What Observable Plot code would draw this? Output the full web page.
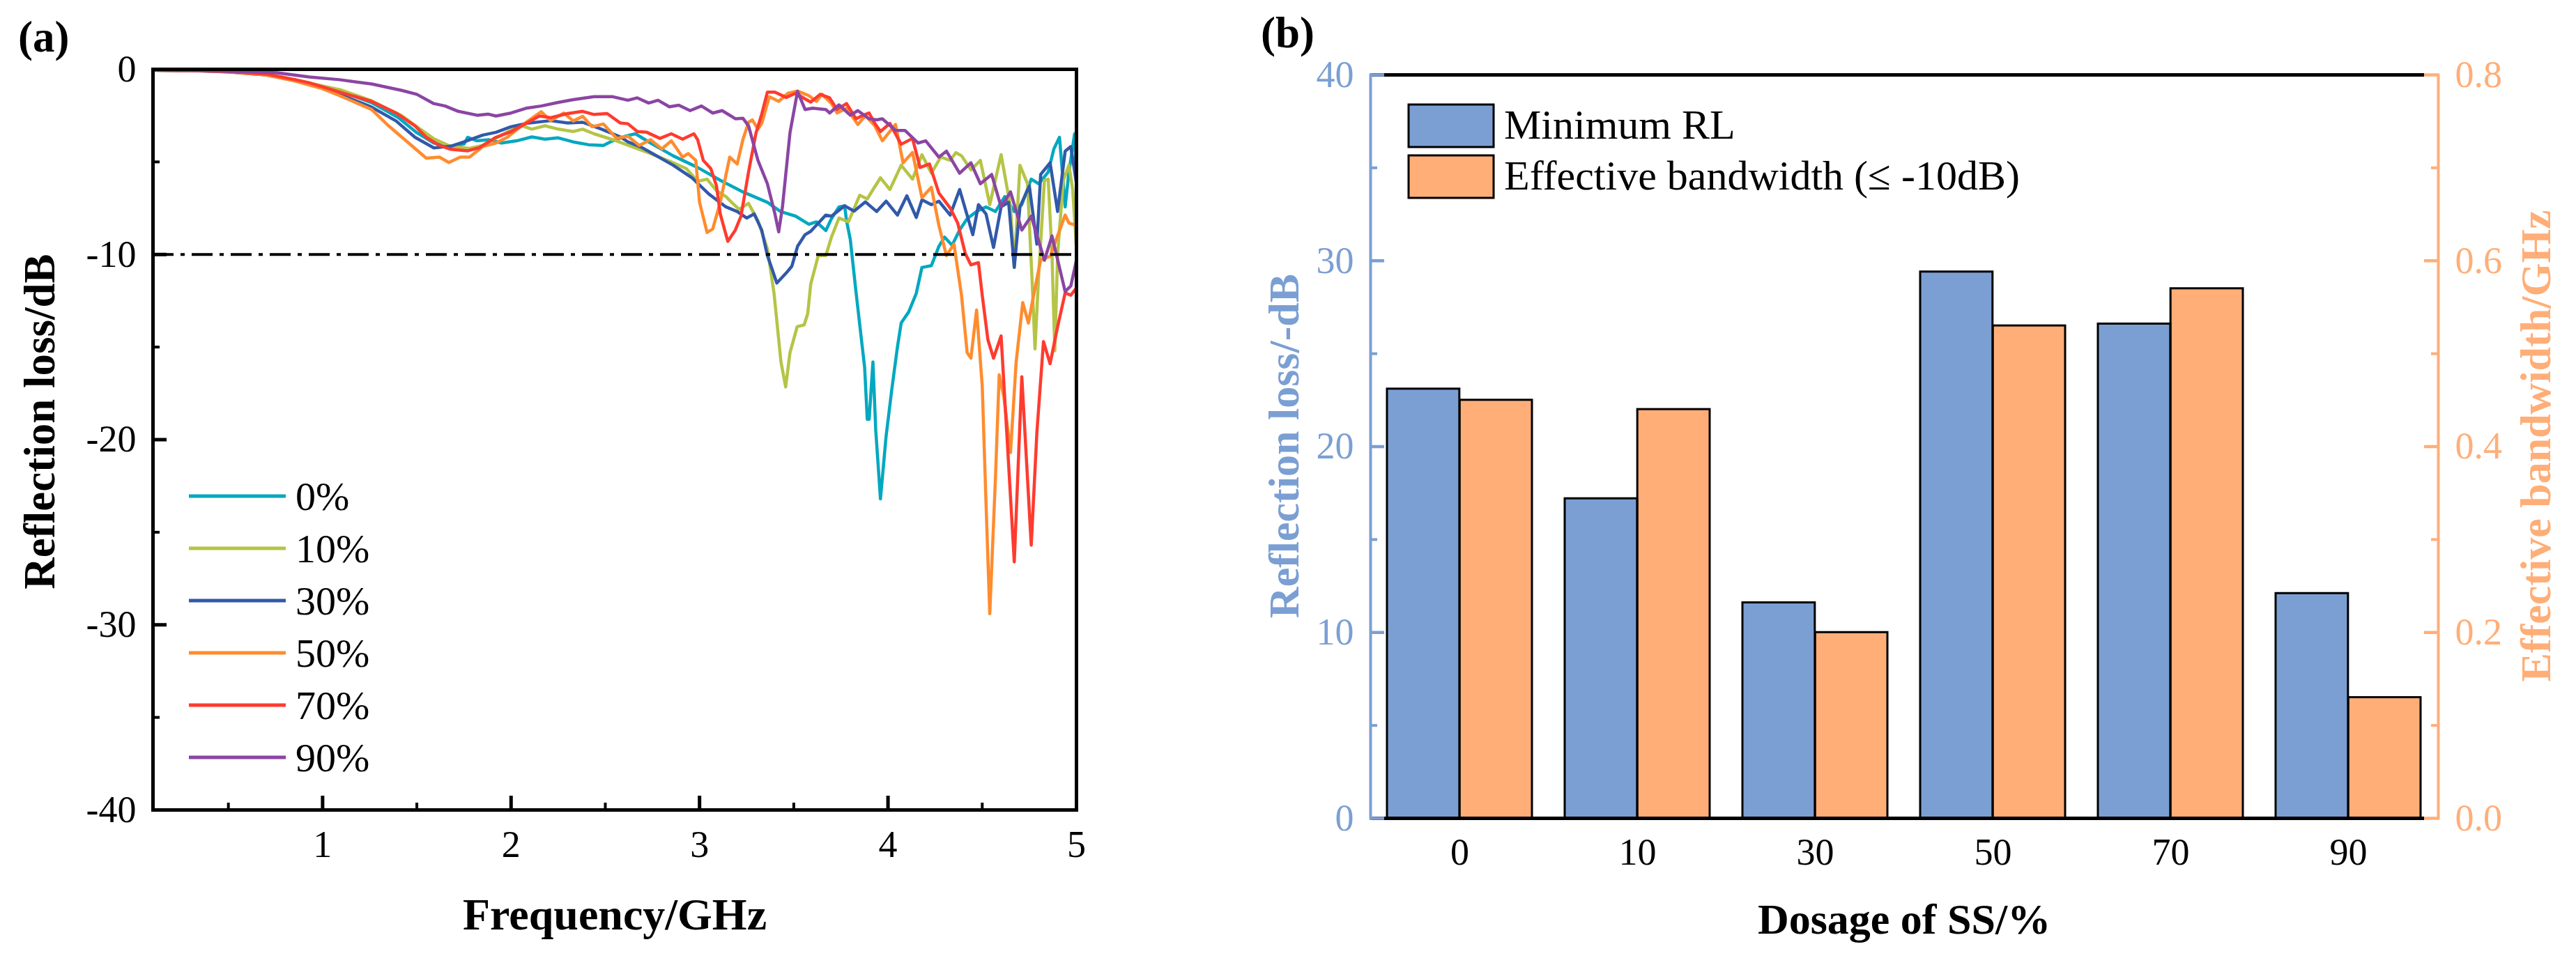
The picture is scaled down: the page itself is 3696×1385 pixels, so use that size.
<!DOCTYPE html>
<html><head><meta charset="utf-8">
<script src="https://cdn.jsdelivr.net/npm/d3@7"></script>
<script src="https://cdn.jsdelivr.net/npm/@observablehq/plot@0.6"></script>
<style>
html,body{margin:0;padding:0;background:#fff;}
#wrap{position:relative;width:3696px;height:1385px;overflow:hidden;background:#fff;}
#wrap svg{position:absolute;}
</style></head><body><div id="wrap"></div>
<script>
// ---------- Panel (a) data: [frequency GHz, reflection loss dB] ----------
const seriesNames = ["0%","10%","30%","50%","70%","90%"];
const seriesColors = ["#00A8C0","#B5C446","#3159AA","#FF8C2E","#FF3B2F","#8B45A3"];

const s0 = [[0.1,-0.05],[0.3,-0.06],[0.5,-0.12],[0.7,-0.27],[0.85,-0.57],[1.0,-0.95],[1.1,-1.2],[1.26,-1.8],[1.4,-2.6],[1.5,-3.42],[1.59,-3.98],[1.67,-4.17],[1.75,-4.04],[1.77,-3.67],[1.82,-3.86],[1.88,-3.8],[1.95,-3.98],[2.03,-3.86],[2.11,-3.65],[2.18,-3.77],[2.25,-3.7],[2.33,-3.92],[2.41,-4.07],[2.49,-4.11],[2.53,-3.9],[2.61,-3.6],[2.66,-3.48],[2.74,-3.98],[2.86,-4.67],[2.99,-5.3],[3.11,-5.99],[3.23,-6.62],[3.36,-7.18],[3.43,-7.68],[3.51,-7.93],[3.58,-8.37],[3.62,-8.24],[3.67,-8.71],[3.70,-8.06],[3.74,-7.43],[3.77,-7.37],[3.78,-8.18],[3.80,-9.19],[3.83,-12.0],[3.876,-16.1],[3.89,-18.9],[3.90,-18.9],[3.92,-15.8],[3.935,-19.5],[3.96,-23.2],[3.99,-19.8],[4.02,-17.3],[4.05,-15.0],[4.07,-13.7],[4.11,-13.1],[4.15,-12.1],[4.18,-10.7],[4.23,-10.6],[4.27,-9.56],[4.30,-9.06],[4.34,-9.5],[4.38,-8.68],[4.42,-8.06],[4.47,-7.68],[4.52,-7.43],[4.57,-7.68],[4.62,-6.87],[4.67,-7.68],[4.71,-7.3],[4.76,-5.93],[4.80,-6.18],[4.85,-5.55],[4.88,-4.3],[4.91,-3.67],[4.94,-7.43],[4.96,-5.55],[4.99,-3.48],[5.0,-5.9]];

const s10 = [[0.1,-0.05],[0.3,-0.06],[0.5,-0.12],[0.7,-0.25],[0.85,-0.55],[1.0,-0.9],[1.1,-1.12],[1.26,-1.7],[1.42,-2.5],[1.5,-3.1],[1.59,-3.75],[1.68,-4.17],[1.78,-4.27],[1.85,-4.11],[1.95,-3.55],[2.05,-3.02],[2.11,-3.23],[2.18,-3.05],[2.25,-3.23],[2.33,-3.36],[2.38,-3.23],[2.44,-3.48],[2.54,-3.8],[2.62,-4.1],[2.74,-4.55],[2.86,-5.05],[2.93,-5.36],[2.99,-6.05],[3.04,-5.93],[3.09,-6.55],[3.14,-6.87],[3.17,-7.18],[3.21,-7.56],[3.26,-7.24],[3.31,-8.18],[3.36,-9.69],[3.395,-12.07],[3.432,-15.8],[3.457,-17.15],[3.48,-15.3],[3.518,-13.9],[3.555,-13.8],[3.574,-13.2],[3.59,-11.6],[3.63,-10.06],[3.67,-10.06],[3.70,-9.06],[3.74,-8.03],[3.79,-8.24],[3.85,-6.8],[3.89,-7.0],[3.92,-6.5],[3.96,-5.86],[4.01,-6.49],[4.07,-5.18],[4.13,-5.93],[4.18,-4.61],[4.23,-5.61],[4.28,-4.74],[4.33,-4.92],[4.36,-4.5],[4.39,-4.67],[4.44,-5.43],[4.49,-4.92],[4.54,-7.31],[4.60,-4.61],[4.65,-7.43],[4.67,-10.7],[4.70,-5.18],[4.74,-6.18],[4.765,-11.5],[4.78,-15.1],[4.80,-11.0],[4.83,-6.0],[4.85,-5.93],[4.87,-10.0],[4.885,-15.2],[4.90,-10.0],[4.93,-6.0],[4.96,-5.18],[4.98,-6.5],[5.0,-9.7]];

const s30 = [[0.1,-0.05],[0.3,-0.07],[0.5,-0.14],[0.7,-0.3],[0.85,-0.6],[1.0,-1.0],[1.09,-1.35],[1.26,-2.04],[1.39,-2.79],[1.49,-3.67],[1.59,-4.24],[1.68,-4.15],[1.75,-3.92],[1.85,-3.55],[1.92,-3.4],[2.0,-3.1],[2.08,-2.92],[2.21,-2.77],[2.30,-2.9],[2.38,-2.86],[2.48,-3.23],[2.58,-3.65],[2.62,-3.92],[2.69,-4.2],[2.74,-4.49],[2.86,-5.18],[2.96,-5.86],[3.05,-6.74],[3.14,-7.43],[3.20,-7.68],[3.25,-8.03],[3.29,-7.81],[3.33,-8.68],[3.36,-10.06],[3.39,-10.94],[3.41,-11.54],[3.46,-11.0],[3.49,-10.63],[3.52,-9.56],[3.56,-8.93],[3.59,-8.75],[3.63,-8.31],[3.67,-7.87],[3.70,-7.93],[3.77,-7.37],[3.82,-7.66],[3.88,-7.16],[3.94,-7.68],[3.99,-7.12],[4.05,-7.87],[4.10,-6.83],[4.15,-8.0],[4.18,-7.05],[4.23,-7.31],[4.27,-7.12],[4.33,-7.87],[4.38,-6.49],[4.45,-8.93],[4.48,-7.31],[4.52,-7.81],[4.56,-9.62],[4.60,-7.43],[4.64,-7.18],[4.67,-10.7],[4.70,-7.43],[4.75,-6.3],[4.79,-9.44],[4.81,-5.68],[4.86,-5.05],[4.90,-7.68],[4.94,-4.42],[4.97,-4.17],[5.0,-6.18]];

const s50 = [[0.1,-0.05],[0.3,-0.07],[0.5,-0.14],[0.7,-0.3],[0.85,-0.62],[1.0,-1.05],[1.09,-1.42],[1.26,-2.17],[1.35,-3.05],[1.45,-3.92],[1.55,-4.8],[1.62,-4.74],[1.67,-5.03],[1.73,-4.74],[1.78,-4.74],[1.85,-4.17],[1.92,-3.98],[1.98,-3.67],[2.08,-2.86],[2.16,-2.29],[2.21,-2.77],[2.28,-2.36],[2.33,-2.79],[2.38,-2.54],[2.43,-3.1],[2.49,-2.95],[2.56,-3.73],[2.62,-3.61],[2.68,-4.11],[2.74,-3.8],[2.80,-4.3],[2.85,-3.86],[2.91,-4.74],[2.94,-4.55],[2.98,-4.92],[3.0,-7.18],[3.04,-8.81],[3.07,-8.62],[3.11,-7.18],[3.16,-4.74],[3.20,-5.11],[3.23,-3.8],[3.26,-2.86],[3.28,-2.73],[3.31,-3.23],[3.33,-2.92],[3.37,-1.48],[3.42,-1.73],[3.47,-1.29],[3.52,-1.17],[3.58,-1.42],[3.62,-1.73],[3.65,-1.35],[3.70,-1.85],[3.73,-2.36],[3.78,-2.1],[3.84,-2.98],[3.88,-2.5],[3.93,-3.05],[3.97,-3.86],[4.04,-2.98],[4.08,-5.05],[4.13,-4.49],[4.18,-6.93],[4.23,-6.37],[4.27,-8.43],[4.31,-10.06],[4.35,-9.44],[4.39,-12.2],[4.42,-15.3],[4.44,-15.6],[4.47,-13.0],[4.50,-17.1],[4.52,-23.4],[4.54,-29.4],[4.57,-22.1],[4.59,-16.5],[4.615,-17.7],[4.65,-20.7],[4.68,-15.8],[4.715,-12.6],[4.745,-13.7],[4.775,-12.07],[4.81,-10.3],[4.86,-10.1],[4.94,-7.87],[4.96,-8.3],[5.0,-8.43]];

const s70 = [[0.1,-0.05],[0.3,-0.06],[0.5,-0.12],[0.7,-0.25],[0.85,-0.55],[0.93,-0.73],[1.09,-1.23],[1.26,-1.73],[1.39,-2.36],[1.49,-3.05],[1.55,-3.67],[1.62,-4.11],[1.68,-4.32],[1.77,-4.4],[1.83,-4.24],[1.92,-3.67],[2.0,-3.36],[2.08,-2.92],[2.15,-2.52],[2.21,-2.61],[2.30,-2.39],[2.38,-2.27],[2.44,-2.44],[2.51,-2.39],[2.58,-2.9],[2.62,-2.94],[2.67,-3.36],[2.72,-3.4],[2.79,-3.73],[2.85,-3.48],[2.91,-3.77],[2.97,-3.48],[2.99,-3.8],[3.02,-4.92],[3.06,-5.36],[3.09,-6.3],[3.11,-7.81],[3.15,-9.29],[3.19,-8.68],[3.22,-7.93],[3.26,-5.55],[3.30,-3.42],[3.33,-2.42],[3.36,-1.23],[3.40,-1.23],[3.46,-1.52],[3.51,-1.29],[3.56,-1.6],[3.59,-1.77],[3.64,-1.35],[3.69,-1.54],[3.73,-2.17],[3.78,-1.85],[3.83,-2.67],[3.86,-2.52],[3.90,-2.36],[3.93,-2.92],[3.96,-3.36],[4.01,-2.92],[4.07,-4.05],[4.13,-3.73],[4.17,-5.3],[4.22,-5.11],[4.27,-6.68],[4.33,-7.49],[4.37,-8.31],[4.41,-9.94],[4.44,-10.56],[4.48,-10.44],[4.50,-12.2],[4.53,-14.6],[4.56,-15.6],[4.60,-14.4],[4.63,-19.6],[4.67,-26.6],[4.71,-16.6],[4.76,-25.7],[4.79,-19.6],[4.825,-14.7],[4.86,-15.9],[4.90,-13.9],[4.94,-12.07],[4.97,-12.2],[5.0,-11.8]];

const s90 = [[0.1,-0.05],[0.3,-0.06],[0.5,-0.1],[0.6,-0.12],[0.76,-0.19],[0.93,-0.41],[1.09,-0.56],[1.26,-0.79],[1.42,-1.14],[1.50,-1.35],[1.59,-1.85],[1.65,-1.98],[1.72,-2.27],[1.82,-2.48],[1.88,-2.42],[1.92,-2.52],[2.0,-2.36],[2.08,-2.1],[2.16,-1.98],[2.25,-1.79],[2.33,-1.64],[2.44,-1.48],[2.54,-1.48],[2.62,-1.67],[2.67,-1.54],[2.73,-1.82],[2.78,-1.67],[2.84,-2.02],[2.89,-1.94],[2.95,-2.23],[3.01,-1.98],[3.07,-2.36],[3.12,-2.23],[3.19,-2.67],[3.23,-2.64],[3.26,-3.05],[3.31,-4.92],[3.36,-6.18],[3.40,-7.81],[3.42,-8.78],[3.44,-7.43],[3.48,-3.42],[3.52,-1.19],[3.56,-2.17],[3.60,-2.1],[3.67,-2.17],[3.69,-2.36],[3.74,-1.92],[3.80,-2.48],[3.84,-2.23],[3.90,-2.67],[3.94,-2.73],[3.97,-2.67],[4.04,-3.3],[4.09,-3.3],[4.16,-3.98],[4.20,-3.86],[4.27,-4.74],[4.31,-4.42],[4.38,-5.61],[4.44,-5.05],[4.49,-6.18],[4.55,-5.68],[4.60,-7.43],[4.65,-6.62],[4.71,-8.68],[4.76,-7.93],[4.83,-10.31],[4.87,-9.0],[4.94,-12.0],[4.97,-11.7],[5.0,-10.3]];

const xTicksA = [1,2,3,4,5];
const xMinorA = [0.5,1.5,2.5,3.5,4.5];
const yTicksA = [0,-10,-20,-30,-40];
const yMinorA = [-5,-15,-25,-35];
const thresholdA = [-10];

// ---------- Panel (b) data ----------
const dosages = ["0","10","30","50","70","90"];
const minRL = [23.1,17.2,11.6,29.4,26.6,12.1];
const effBandwidth = [0.45,0.44,0.20,0.53,0.57,0.13];
const yTicksL = [0,10,20,30,40];
const yMinorL = [5,15,25,35];
const yTicksR = [0,0.2,0.4,0.6,0.8];
const yMinorR = [0.1,0.3,0.5,0.7];
const legendB = ["Minimum RL","Effective bandwidth (\u2264 -10dB)"];

const FONT = "'Liberation Serif','Times New Roman',serif";
const BLUE = "#7B9FD3";
const ORANGE = "#FFAE78";
const wrap = document.getElementById("wrap");

// ---------- Panel (a) ----------
const curves = [s0,s10,s30,s50,s70,s90];
const rows = curves.flatMap((s,i)=>s.map(([f,rl])=>({f, rl, series: seriesNames[i]})));
const WA=1620, HA=1385, mLA=219, mRA=WA-1544, mTA=99, mBA=HA-1162;
const iwA=WA-mLA-mRA, ihA=HA-mTA-mBA;
const plotA = Plot.plot({
  width: WA, height: HA, marginLeft: mLA, marginRight: mRA, marginTop: mTA, marginBottom: mBA,
  style: {background:"transparent", maxWidth:"none", fontFamily: FONT, fontSize:"54px", color:"black", overflow:"visible"},
  x: {domain:[0.1,5], axis:null},
  y: {domain:[-40,0], axis:null},
  color: {domain: seriesNames, range: seriesColors},
  marks: [
    Plot.line(rows, {x:"f", y:"rl", z:"series", stroke:"series", strokeWidth:4.5, strokeLinejoin:"round", strokeLinecap:"round"}),
    Plot.ruleY(thresholdA, {y:d=>d, stroke:"black", strokeWidth:4, strokeDasharray:"30,10,6,10"}),
    Plot.tickY(yTicksA, {y:d=>d, stroke:"black", strokeWidth:5, insetRight: iwA-20}),
    Plot.tickY(yMinorA, {y:d=>d, stroke:"black", strokeWidth:4, insetRight: iwA-10}),
    Plot.tickX(xTicksA, {x:d=>d, stroke:"black", strokeWidth:5, insetTop: ihA-20}),
    Plot.tickX(xMinorA, {x:d=>d, stroke:"black", strokeWidth:4, insetTop: ihA-10}),
    Plot.frame({stroke:"black", strokeWidth:5}),
    Plot.axisY(yTicksA, {tickSize:0, tickPadding:24, tickFormat:d=>String(d), label:null}),
    Plot.axisX(xTicksA, {tickSize:0, tickPadding:29, tickFormat:d=>String(d), label:null})
  ]
});
plotA.style.left="0px"; plotA.style.top="0px";
wrap.appendChild(plotA);

// ---------- Panel (b) ----------
const barRows = dosages.map((d,i)=>({dosage:d, rl:minRL[i], bw:effBandwidth[i]}));
const BX=1800, WB=1896, HB=1385, mLB=166, mRB=198, mTB=107, mBB=211;
const iwB=WB-mLB-mRB, ihB=HB-mTB-mBB;
const PI=0.184, PO=0.092;
const half = d3.scaleBand(dosages,[0,iwB]).paddingInner(PI).paddingOuter(PO).bandwidth()/2;
const common = {
  width: WB, height: HB, marginLeft: mLB, marginRight: mRB, marginTop: mTB, marginBottom: mBB,
  style: {background:"transparent", maxWidth:"none", fontFamily: FONT, fontSize:"54px", color:"black", overflow:"visible"},
  x: {type:"band", domain: dosages, paddingInner: PI, paddingOuter: PO, axis:null}
};
const plotB2 = Plot.plot({
  ...common,
  y: {domain:[0,0.8], axis:null},
  marks: [
    Plot.barY(barRows, {x:"dosage", y:"bw", fill: ORANGE, stroke:"black", strokeWidth:3, insetLeft: half}),
    Plot.tickY(yTicksR, {y:d=>d, stroke: ORANGE, strokeWidth:4.5, insetLeft: iwB-20}),
    Plot.tickY(yMinorR, {y:d=>d, stroke: ORANGE, strokeWidth:4, insetLeft: iwB-10}),
    Plot.frame({anchor:"right", stroke: ORANGE, strokeWidth:4}),
    Plot.axisY(yTicksR, {anchor:"right", tickSize:0, tickPadding:24, tickFormat:d=>d.toFixed(1), color: ORANGE, label:null})
  ]
});
plotB2.style.left=BX+"px"; plotB2.style.top="0px";
wrap.appendChild(plotB2);

const plotB1 = Plot.plot({
  ...common,
  y: {domain:[0,40], axis:null},
  marks: [
    Plot.barY(barRows, {x:"dosage", y:"rl", fill: BLUE, stroke:"black", strokeWidth:3, insetRight: half}),
    Plot.ruleY([0,40], {y:d=>d, stroke:"black", strokeWidth:5, insetRight:20}),
    Plot.tickY(yTicksL, {y:d=>d, stroke: BLUE, strokeWidth:4.5, insetRight: iwB-20}),
    Plot.tickY(yMinorL, {y:d=>d, stroke: BLUE, strokeWidth:4, insetRight: iwB-10}),
    Plot.frame({anchor:"left", stroke: BLUE, strokeWidth:4}),
    Plot.axisY(yTicksL, {anchor:"left", tickSize:0, tickPadding:24, tickFormat:d=>String(d), color: BLUE, label:null}),
    Plot.axisX(dosages, {tickSize:0, tickPadding:28, label:null})
  ]
});
plotB1.style.left=BX+"px"; plotB1.style.top="0px";
wrap.appendChild(plotB1);

// ---------- Text, titles and legends ----------
const svg = d3.select(wrap).append("svg")
  .attr("width",3696).attr("height",1385)
  .style("left","0px").style("top","0px")
  .style("font-family", FONT);
function txt(x,y,s,{size=60,weight="normal",fill="black",anchor="start",rotate=0}={}){
  svg.append("text").attr("transform",`translate(${x},${y}) rotate(${rotate})`)
    .attr("text-anchor",anchor).attr("font-size",size).attr("font-weight",weight).attr("fill",fill).text(s);
}
txt(26,74,"(a)",{size:63,weight:"bold"});
txt(1809,68,"(b)",{size:63,weight:"bold"});
txt(78,605,"Reflection loss/dB",{size:63,weight:"bold",anchor:"middle",rotate:-90});
txt(882,1334,"Frequency/GHz",{size:64,weight:"bold",anchor:"middle"});
txt(1863,640,"Reflection loss/-dB",{size:62,weight:"bold",anchor:"middle",rotate:-90,fill:BLUE});
txt(3659,640,"Effective bandwidth/GHz",{size:62,weight:"bold",anchor:"middle",rotate:-90,fill:ORANGE});
txt(2732,1340,"Dosage of SS/%",{size:62,weight:"bold",anchor:"middle"});

// legend (a)
seriesNames.forEach((name,i)=>{
  const y = 712 + 75*i;
  svg.append("line").attr("x1",271).attr("x2",410).attr("y1",y).attr("y2",y)
    .attr("stroke",seriesColors[i]).attr("stroke-width",5);
  txt(424, y+20, name, {size:58});
});
// legend (b)
[BLUE, ORANGE].forEach((c,i)=>{
  const y = 150 + 73*i;
  svg.append("rect").attr("x",2021).attr("y",y).attr("width",122).attr("height",61)
    .attr("fill",c).attr("stroke","black").attr("stroke-width",3);
  txt(2158, y+49, legendB[i], {size:60});
});
</script></body></html>
